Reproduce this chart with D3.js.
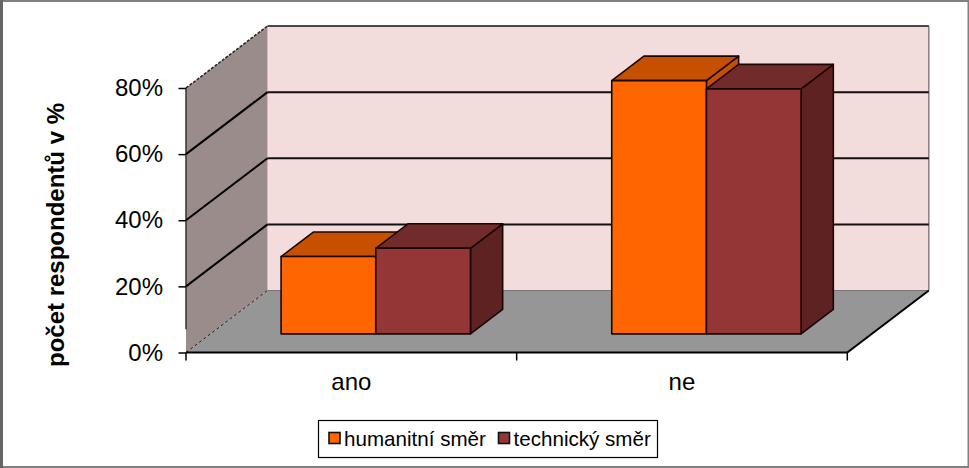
<!DOCTYPE html>
<html><head><meta charset="utf-8">
<script src="https://cdn.jsdelivr.net/npm/d3@7"></script>
<style>html,body{margin:0;padding:0;background:#fff}svg{display:block}text{font-family:"Liberation Sans",Arial,sans-serif;fill:#000}</style>
</head><body><svg id="c" width="969" height="468"></svg>
<script>
const categories = ["ano", "ne"];
const seriesNames = ["humanitní směr", "technický směr"];
const humanitni = [23.4, 76.6];
const technicky = [25.9, 74.1];
const seriesValues = [humanitni, technicky];
const yTicks = [0, 20, 40, 60, 80];
const frontColors = ["#ff6600", "#953636"];
const topColors = ["#c65000", "#722b2b"];
const sideColors = ["#c65000", "#5f2222"];

const svg = d3.select("#c");
svg.append("rect").attr("x",0).attr("y",0).attr("width",969).attr("height",2).attr("fill","#808080");
svg.append("rect").attr("x",0).attr("y",466).attr("width",969).attr("height",2).attr("fill","#808080");
svg.append("rect").attr("x",0).attr("y",0).attr("width",3).attr("height",468).attr("fill","#666");
svg.append("rect").attr("x",967.5).attr("y",0).attr("width",1.5).attr("height",468).attr("fill","#808080");

const plotLeft=186,plotRight=847.3,plotBottom=352.5,plotTop=88,dx=81.5,dy=62;
const y=d3.scaleLinear().domain([0,80]).range([plotBottom,plotTop]);
const x0=d3.scaleBand().domain(categories).range([plotLeft,plotRight]);
const x1=d3.scaleBand().domain(seriesNames).range([0,x0.bandwidth()]).paddingInner(0).paddingOuter(0.746);
const P=(px,v,d)=>[px+d*dx,y(v)-d*dy];
const poly=pts=>"M"+pts.map(p=>p.join(",")).join("L")+"Z";
const line=(a,b,w,col,dash)=>{const l=svg.append("line").attr("x1",a[0]).attr("y1",a[1]).attr("x2",b[0]).attr("y2",b[1]).attr("stroke",col||"#000").attr("stroke-width",w);if(dash)l.attr("stroke-dasharray",dash);return l;};

// walls and floor
svg.append("path").attr("d",poly([P(plotLeft,0,1),P(plotRight,0,1),P(plotRight,80,1),P(plotLeft,80,1)])).attr("fill","#f3dcdc");
svg.append("path").attr("d",poly([P(plotLeft,0,0),P(plotLeft,0,1),P(plotLeft,80,1),P(plotLeft,80,0)])).attr("fill","#9b8c8c");
svg.append("path").attr("d",poly([P(plotLeft,0,0),P(plotRight,0,0),P(plotRight,0,1),P(plotLeft,0,1)])).attr("fill","#969696");
line(P(plotRight,0,1),P(plotRight,80,1),1.5,"#8a7d7d");
line(P(plotLeft,80,0),P(plotLeft,7,0),1.5,"#3a3030");

// gridlines
yTicks.filter(t=>t>0).forEach(t=>{
  line(P(plotLeft,t,1),P(plotRight,t,1),t===80?1.6:2,"#111");
  line(P(plotLeft,t,0),P(plotLeft,t,1),t===80?1.5:2,t===80?"#222":"#000",t===80?"3,1.5":null);
});
line(P(plotLeft,0,0),P(plotLeft,0,1),1,"#222","3,2.5");
line(P(plotLeft,0,1),P(plotRight,0,1),1,"#777");

// floor front and right edges
line(P(plotLeft,0,0),P(plotRight,0,0),2);
line(P(plotRight,0,0),P(plotRight,0,1),2);

// axes
const yAxis=d3.axisLeft(y).tickValues(yTicks).tickFormat(d=>d+"%").tickSize(7.5).tickPadding(15.5);
const ga=svg.append("g").attr("transform",`translate(${plotLeft},0)`).call(yAxis);
ga.select(".domain").remove();
ga.selectAll("line").attr("stroke","#000").attr("stroke-width",1.5);
ga.selectAll("text").attr("font-size",24).style("font-family",'"Liberation Sans",Arial,sans-serif');
[plotLeft,(plotLeft+plotRight)/2,plotRight].forEach(px=>line([px,plotBottom],[px,plotBottom+8],1.5));
svg.selectAll(".cat").data(categories).join("text").attr("class","cat")
  .attr("x",d=>x0(d)+x0.bandwidth()/2).attr("y",390).attr("text-anchor","middle").attr("font-size",24).text(d=>d);
svg.append("text").attr("transform","translate(64,235) rotate(-90)").attr("text-anchor","middle")
  .attr("font-size",24).attr("font-weight","bold").text("počet respondentů v %");

// 3D bars
const d0=0.30,d1=0.695;
categories.forEach((c,i)=>seriesNames.forEach((s,j)=>{
  const v=seriesValues[j][i],a=x0(c)+x1(s),b=a+x1.bandwidth();
  const g=svg.append("g").attr("stroke","#1a0500").attr("stroke-width",1.6).attr("stroke-linejoin","round");
  g.append("path").attr("d",poly([P(b,0,d0),P(b,0,d1),P(b,v,d1),P(b,v,d0)])).attr("fill",sideColors[j]);
  g.append("path").attr("d",poly([P(a,v,d0),P(b,v,d0),P(b,v,d1),P(a,v,d1)])).attr("fill",topColors[j]);
  g.append("path").attr("d",poly([P(a,0,d0),P(b,0,d0),P(b,v,d0),P(a,v,d0)])).attr("fill",frontColors[j]);
}));

// legend
svg.append("rect").attr("x",318.5).attr("y",420.5).attr("width",339).attr("height",37).attr("fill","#fff").attr("stroke","#000").attr("stroke-width",1.2);
const legendX=[329,498.5];
seriesNames.forEach((s,j)=>{
  svg.append("rect").attr("x",legendX[j]).attr("y",432.5).attr("width",11).attr("height",11).attr("fill",frontColors[j]).attr("stroke","#111").attr("stroke-width",1.6);
  svg.append("text").attr("x",legendX[j]+15).attr("y",446).attr("font-size",20.6).text(s);
});
</script></body></html>
